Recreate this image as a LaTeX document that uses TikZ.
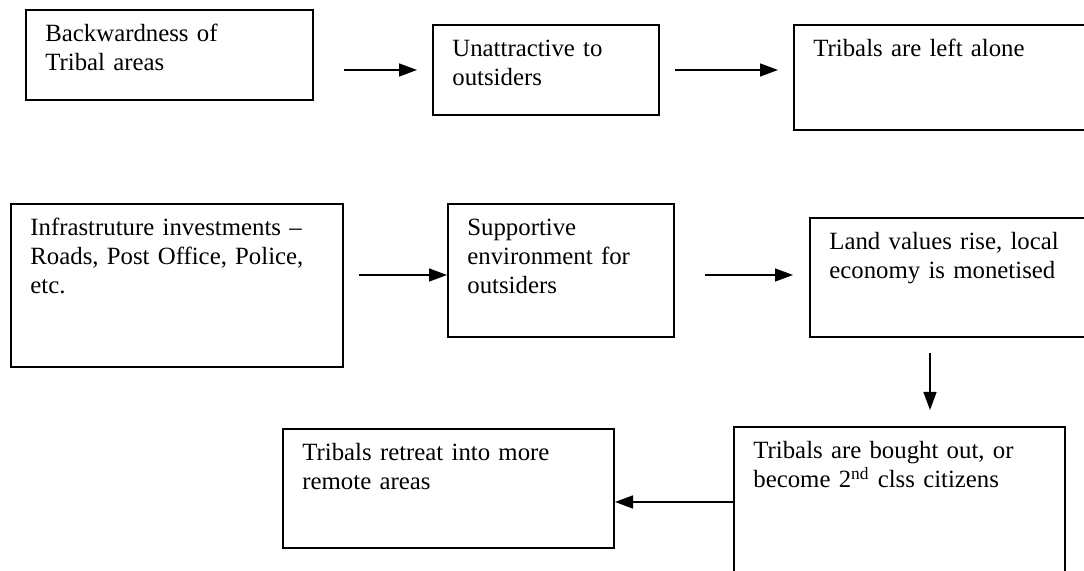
\documentclass[tikz,border=0pt]{standalone}
\usepackage{fontspec}
\setmainfont{Liberation Serif}
\usetikzlibrary{
  arrows.meta
}
\tikzset{
  flow box/.style={draw,line width=1pt,anchor=north west,inner sep=0pt},
  flow text/.style={anchor=base west,inner sep=0pt,align=left,text width=150pt,
    font=\fontsize{12.4}{14.5}\selectfont},
  flow arrow/.style={line width=0.75pt,-{Triangle[length=9pt,width=6.5pt]}},
}

\begin{document}
\begin{tikzpicture}[x=0.5pt,y=-0.5pt]
\clip (0,0) rectangle (1084,571);

% first row
\node[flow box,minimum width=143.5pt,minimum height=45pt] (backward) at (25,9) {};
\node[flow box,minimum width=113pt,minimum height=45pt] (unattract) at (432,24) {};
\node[flow box,minimum width=160pt,minimum height=52.5pt] (alone) at (793,24) {};

% second row
\node[flow box,minimum width=166pt,minimum height=81.5pt] (infra) at (10,203) {};
\node[flow box,minimum width=113pt,minimum height=66.5pt] (supportive) at (447,203) {};
\node[flow box,minimum width=150pt,minimum height=59.5pt] (landvalue) at (809,217) {};

% third row
\node[flow box,minimum width=165.5pt,minimum height=85pt] (boughtout) at (733,426) {};
\node[flow box,minimum width=165.5pt,minimum height=59.5pt] (retreat) at (282,428) {};

\node[flow text] (backward-t) at ([shift={(10pt,-16.5pt)}]backward.north west) {Backwardness of\\Tribal areas};
\node[flow text] (unattract-t) at ([shift={(10pt,-16.5pt)}]unattract.north west) {Unattractive to\\outsiders};
\node[flow text] (alone-t) at ([shift={(10pt,-16.5pt)}]alone.north west) {Tribals are left alone};
\node[flow text] (infra-t) at ([shift={(10pt,-16.5pt)}]infra.north west) {Infrastruture investments --\\Roads, Post Office, Police,\\etc.};
\node[flow text] (supportive-t) at ([shift={(10pt,-16.5pt)}]supportive.north west) {Supportive\\environment for\\outsiders};
\node[flow text] (landvalue-t) at ([shift={(10pt,-16.5pt)}]landvalue.north west) {Land values rise, local\\economy is monetised};
\node[flow text] (boughtout-t) at ([shift={(10pt,-16.5pt)}]boughtout.north west) {Tribals are bought out, or\\become 2\textsuperscript{nd} clss citizens};
\node[flow text] (retreat-t) at ([shift={(10pt,-16.5pt)}]retreat.north west) {Tribals retreat into more\\remote areas};

\coordinate (row2) at (0,275);
\coordinate (row3) at (0,502);
\coordinate (col) at (930,0);

\draw[flow arrow,shorten <=15pt,shorten >=7.5pt] (backward.east |- unattract.west) -- (unattract.west);
\draw[flow arrow,shorten <=7.5pt,shorten >=7.5pt] (unattract.east) -- (unattract.east -| alone.west);
\draw[flow arrow,shorten <=7.5pt] (infra.east |- row2) -- (supportive.west |- row2);
\draw[flow arrow,shorten <=15pt,shorten >=8pt] (supportive.east |- row2) -- (landvalue.west |- row2);
\draw[flow arrow,shorten <=7.5pt,shorten >=8pt] (landvalue.south -| col) -- (boughtout.north -| col);
\draw[flow arrow] (boughtout.west |- row3) -- (retreat.east |- row3);
\end{tikzpicture}
\end{document}
